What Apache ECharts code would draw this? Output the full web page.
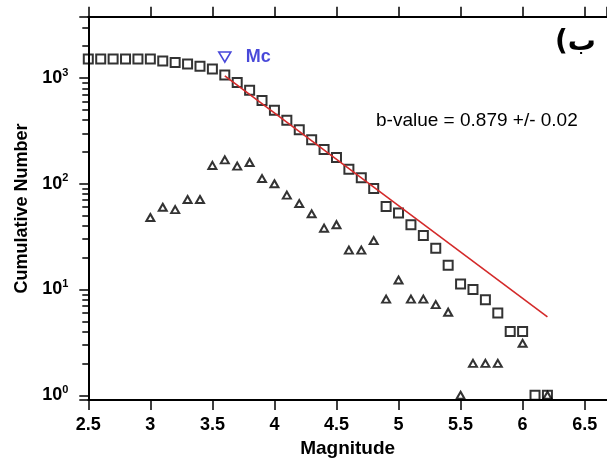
<!DOCTYPE html>
<html>
<head>
<meta charset="utf-8">
<script src="https://cdn.jsdelivr.net/npm/echarts@6/dist/echarts.min.js"></script>
<style>html,body{margin:0;padding:0;background:#fff}#c{width:607px;height:463px}</style>
</head>
<body>
<div id="c"></div>
<script>
// ---- data ----
const magnitudes = [2.5,2.6,2.7,2.8,2.9,3.0,3.1,3.2,3.3,3.4,3.5,3.6,3.7,3.8,3.9,4.0,4.1,4.2,4.3,4.4,4.5,4.6,4.7,4.8,4.9,5.0,5.1,5.2,5.3,5.4,5.5,5.6,5.7,5.8,5.9,6.0,6.1,6.2];
const cumulativeCounts = [1510,1510,1510,1510,1510,1510,1450,1405,1360,1290,1220,1070,905,765,612,496,399,324,261,211,177,137,114,90,61,53,41,32.5,24.5,17,11.3,10,8,6,4,4,1,1];
const incMagnitudes = [3.0,3.1,3.2,3.3,3.4,3.5,3.6,3.7,3.8,3.9,4.0,4.1,4.2,4.3,4.4,4.5,4.6,4.7,4.8,4.9,5.0,5.1,5.2,5.3,5.4,5.5,5.6,5.7,5.8,6.0,6.2];
const incCounts = [48,60,57,71,71,149,168,147,159,112,100,78,65,52,38,41,23.6,23.6,29,8.1,12.3,8.1,8.1,7.2,6.1,1,2,2,2,3.1,1];
const fitLine = [[3.6, 1050], [6.2, 5.5]];
const mcPoint = [[3.6, 1580]];
const xTickLabels = ['2.5','3','3.5','4','4.5','5','5.5','6','6.5'];
const bValueText = 'b-value = 0.879 +/- 0.02';
const panelText = '(ب';

const FONT = '"Liberation Sans", Arial, sans-serif';
const chart = echarts.init(document.getElementById('c'), null, {renderer: 'canvas'});

const xMin = 2.5, xMax = 6.68;

const option = {
  animation: false,
  backgroundColor: '#fff',
  title: [
    {text: bValueText, left: 376, top: 111, padding: 0,
     textStyle: {fontFamily: FONT, fontSize: 19, fontWeight: 'normal', color: '#000'}},
    {text: panelText, right: 11, top: 29, padding: 0,
     textStyle: {fontFamily: '"DejaVu Sans", sans-serif', fontSize: 28, fontWeight: 'bold', color: '#000'}}
  ],
  grid: {left: 88.3, top: 16.7, right: 0, bottom: 61.3, containLabel: false},
  xAxis: [
    {type: 'value', min: xMin, max: xMax, interval: 0.5, position: 'bottom',
     name: 'Magnitude', nameLocation: 'middle', nameGap: 38,
     nameTextStyle: {fontFamily: FONT, fontSize: 19, fontWeight: 'bold', color: '#000'},
     axisLine: {show: true, onZero: false, lineStyle: {color: '#000', width: 2}},
     axisTick: {show: true, inside: false, length: 10, lineStyle: {color: '#000', width: 1.5}},
     splitLine: {show: false},
     axisLabel: {margin: 16, fontFamily: FONT, fontSize: 18, fontWeight: 'bold', color: '#000',
       showMaxLabel: false,
       formatter: function (v) {
         const s = String(Math.round(v * 10) / 10);
         return xTickLabels.indexOf(s) >= 0 ? s : '';
       }}},
    {type: 'value', min: xMin, max: xMax, interval: 0.5, position: 'top',
     axisLine: {show: true, onZero: false, lineStyle: {color: '#000', width: 2}},
     axisTick: {show: true, inside: false, length: 10, lineStyle: {color: '#000', width: 1.5}},
     splitLine: {show: false}, axisLabel: {show: false}}
  ],
  yAxis: [
    {type: 'log', logBase: 10, min: 0.9, max: 3800, position: 'left',
     name: 'Cumulative Number', nameLocation: 'middle', nameGap: 57,
     nameTextStyle: {fontFamily: FONT, fontSize: 18, fontWeight: 'bold', color: '#000'},
     axisLine: {show: true, onZero: false, lineStyle: {color: '#000', width: 2}},
     axisTick: {show: true, inside: false, length: 9, lineStyle: {color: '#000', width: 1.5}},
     minorTick: {show: true, splitNumber: 9, length: 6, lineStyle: {color: '#000', width: 1.5}},
     splitLine: {show: false},
     axisLabel: {margin: 20, color: '#000',
       formatter: function (v) {
         const e = Math.log10(v);
         if (Math.abs(e - Math.round(e)) > 1e-6) return '';
         return '{b|10}{s|' + Math.round(e) + '}';
       },
       rich: {
         b: {fontFamily: FONT, fontSize: 18, fontWeight: 'bold', color: '#000', lineHeight: 22, verticalAlign: 'middle'},
         s: {fontFamily: FONT, fontSize: 11, fontWeight: 'bold', color: '#000', lineHeight: 12, verticalAlign: 'top'}
       }}}
  ],
  series: [
    {name: 'fit', type: 'line', data: fitLine, showSymbol: false, symbol: 'none',
     lineStyle: {color: '#d42a2a', width: 1.6}, z: 3},
    {name: 'cumulative', type: 'scatter', symbol: 'rect', symbolSize: 9,
     data: magnitudes.map(function (m, i) { return [m, cumulativeCounts[i]]; }),
     itemStyle: {color: 'rgba(0,0,0,0)', borderColor: '#000', borderWidth: 2}, z: 2},
    {name: 'incremental', type: 'scatter', symbol: 'triangle', symbolSize: [8, 7],
     data: incMagnitudes.map(function (m, i) { return [m, incCounts[i]]; }),
     itemStyle: {color: 'rgba(255,255,255,0)', borderColor: '#000', borderWidth: 2}, z: 2},
    {name: 'Mc', type: 'scatter', symbol: 'triangle', symbolRotate: 180, symbolSize: [12, 10],
     data: mcPoint,
     itemStyle: {color: 'rgba(0,0,0,0)', borderColor: '#1a1ad0', borderWidth: 1.6},
     label: {show: true, position: 'right', distance: 14, formatter: 'Mc',
       fontFamily: FONT, fontSize: 18, fontWeight: 'bold', color: '#1a1ad0'}, z: 4}
  ]
};
chart.setOption(option);
</script>
</body>
</html>
